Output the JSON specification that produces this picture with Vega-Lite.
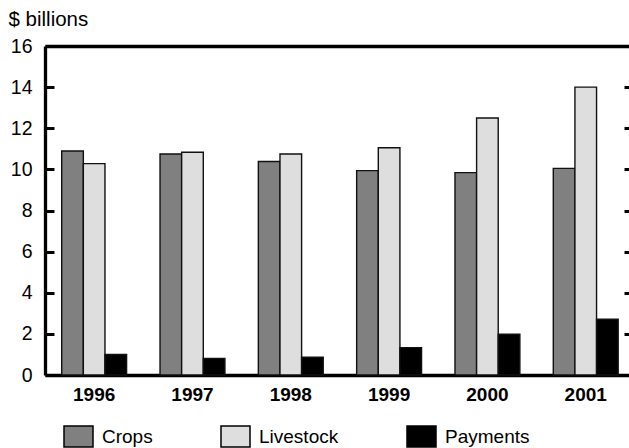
{
  "$schema": "https://vega.github.io/schema/vega-lite/v6.json",
  "width": 584,
  "height": 329,
  "autosize": {"type": "none"},
  "padding": {"left": 45, "top": 46, "right": 0, "bottom": 73},
  "background": "white",
  "config": {
    "view": {"stroke": null},
    "font": "Liberation Sans",
    "axis": {"grid": false, "labelFont": "Liberation Sans", "titleFont": "Liberation Sans", "labelColor": "black", "titleColor": "black", "domainColor": "black", "tickColor": "black"},
    "legend": {"labelFont": "Liberation Sans", "labelColor": "black"}
  },
  "data": {
    "values": [
      {"year": "1996", "series": "Crops", "value": 10.89},
      {"year": "1996", "series": "Livestock", "value": 10.28},
      {"year": "1996", "series": "Payments", "value": 1.0},
      {"year": "1997", "series": "Crops", "value": 10.75},
      {"year": "1997", "series": "Livestock", "value": 10.83},
      {"year": "1997", "series": "Payments", "value": 0.81},
      {"year": "1998", "series": "Crops", "value": 10.38},
      {"year": "1998", "series": "Livestock", "value": 10.75},
      {"year": "1998", "series": "Payments", "value": 0.86},
      {"year": "1999", "series": "Crops", "value": 9.94},
      {"year": "1999", "series": "Livestock", "value": 11.05},
      {"year": "1999", "series": "Payments", "value": 1.33},
      {"year": "2000", "series": "Crops", "value": 9.84},
      {"year": "2000", "series": "Livestock", "value": 12.5},
      {"year": "2000", "series": "Payments", "value": 1.98},
      {"year": "2001", "series": "Crops", "value": 10.05},
      {"year": "2001", "series": "Livestock", "value": 14.0},
      {"year": "2001", "series": "Payments", "value": 2.71}
    ]
  },
  "layer": [
    {
      "mark": {"type": "bar", "stroke": "#111111", "strokeWidth": 1.4},
      "encoding": {
        "x": {
          "field": "year", "type": "nominal",
          "scale": {"paddingInner": 0.34, "paddingOuter": 0.14, "align": 0.607},
          "axis": {"orient": "bottom", "title": null, "labelAngle": 0, "labelFontSize": 19, "labelFontWeight": "bold", "labelPadding": 10, "ticks": false, "domainWidth": 3.3}
        },
        "xOffset": {"field": "series", "type": "nominal", "sort": ["Crops", "Livestock", "Payments"], "scale": {"paddingInner": 0, "paddingOuter": 0}},
        "y": {
          "field": "value", "type": "quantitative",
          "scale": {"domain": [0, 16], "nice": false},
          "axis": {"orient": "left", "values": [0, 2, 4, 6, 8, 10, 12, 14, 16], "tickSize": -9, "tickWidth": 3, "domainWidth": 3.3, "labelFontSize": 19.5, "labelPadding": 22, "title": "$ billions", "titleAngle": 0, "titleX": -37, "titleY": -21, "titleAlign": "left", "titleBaseline": "alphabetic", "titleFontSize": 20.5, "titleFontWeight": "normal"}
        },
        "color": {
          "field": "series", "type": "nominal",
          "scale": {"domain": ["Crops", "Livestock", "Payments"], "range": ["#808080", "#DEDEDE", "#000000"]},
          "legend": {"orient": "none", "legendX": 18, "legendY": 375, "direction": "horizontal", "columns": 3, "gridAlign": "none", "title": null, "symbolType": "M-1,-0.724L1,-0.724L1,0.724L-1,0.724Z", "symbolSize": 841, "symbolStrokeColor": "black", "symbolStrokeWidth": 1.5, "labelFontSize": 19, "labelOffset": 8, "columnPadding": 65, "padding": 0}
        }
      }
    },
    {
      "mark": {"type": "bar", "opacity": 0},
      "encoding": {
        "x": {
          "field": "year", "type": "nominal",
          "scale": {"paddingInner": 0.34, "paddingOuter": 0.14, "align": 0.607},
          "axis": {"orient": "top", "title": null, "labels": false, "ticks": false, "domainWidth": 3.3}
        },
        "xOffset": {"field": "series", "type": "nominal", "sort": ["Crops", "Livestock", "Payments"], "scale": {"paddingInner": 0, "paddingOuter": 0}},
        "y": {
          "field": "value", "type": "quantitative",
          "scale": {"domain": [0, 16], "nice": false},
          "axis": {"orient": "right", "title": null, "labels": false, "domain": false, "tickSize": -5, "tickWidth": 3, "values": [2, 4, 6, 8, 10, 12, 14]}
        }
      }
    }
  ],
  "resolve": {"axis": {"x": "independent", "y": "independent"}}
}
